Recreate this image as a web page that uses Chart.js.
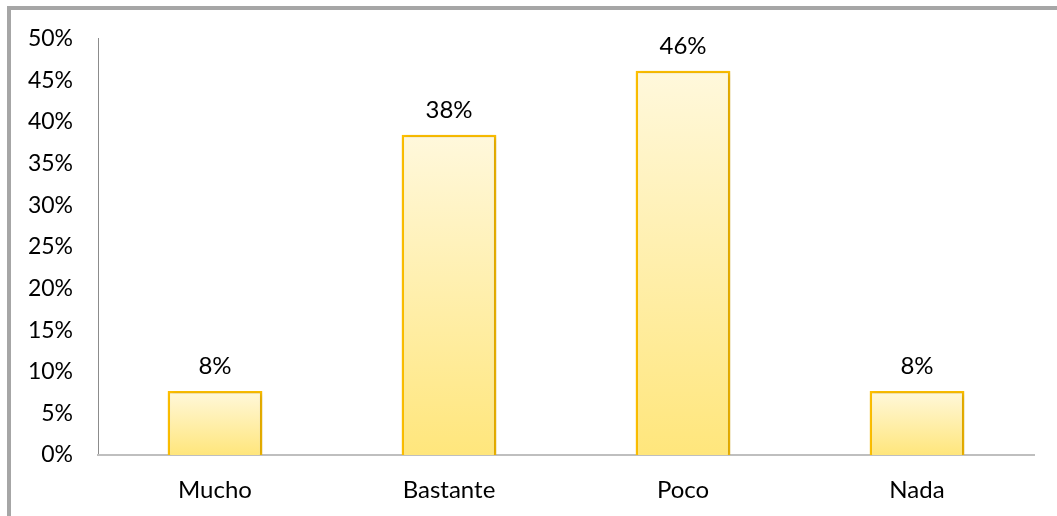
<!DOCTYPE html>
<html>
<head>
<meta charset="utf-8">
<script src="https://cdn.jsdelivr.net/npm/chart.js@4.4.0/dist/chart.umd.min.js"></script>
<style>
  html, body { margin: 0; padding: 0; background: #fff; }
  #wrap { position: relative; width: 1057px; height: 516px; overflow: hidden; }
  #frame {
    position: absolute; left: 7px; top: 6px; width: 1200px; height: 600px;
    border-left: 4px solid #a6a6a6; border-top: 4px solid #a6a6a6;
  }
  canvas { position: absolute; left: 0; top: 0; }
</style>
</head>
<body>
<div id="wrap">
  <div id="frame"></div>
  <canvas id="c" width="1057" height="516"></canvas>
</div>
<script>
const categories = ['Mucho', 'Bastante', 'Poco', 'Nada'];
const values     = [7.69, 38.46, 46.15, 7.69];   // percent
const valueLabels = ['8%', '38%', '46%', '8%'];

const FONT = 'Lato, "Open Sans", sans-serif';

function barGradient(context) {
  const chart = context.chart;
  const ys = chart.scales.y;
  if (!chart.chartArea || !ys || context.type !== 'data') return '#fff0b0';
  const top = ys.getPixelForValue(context.raw);
  const base = ys.getPixelForValue(0);
  const g = chart.ctx.createLinearGradient(0, top, 0, base);
  g.addColorStop(0, '#fff8dc');
  g.addColorStop(1, '#ffe67c');
  return g;
}

// soft shadow behind bars
const shadowPlugin = {
  id: 'barShadow',
  beforeDatasetDraw(chart) {
    const ctx = chart.ctx;
    ctx.save();
    ctx.shadowColor = 'rgba(0,0,0,0.18)';
    ctx.shadowBlur = 5;
    ctx.shadowOffsetX = 2;
    ctx.shadowOffsetY = 1;
  },
  afterDatasetDraw(chart) {
    chart.ctx.restore();
  }
};

// value labels above bars
const valueLabelPlugin = {
  id: 'valueLabels',
  afterDatasetsDraw(chart) {
    const ctx = chart.ctx;
    const meta = chart.getDatasetMeta(0);
    ctx.save();
    ctx.font = '24px ' + FONT;
    ctx.fillStyle = '#000';
    ctx.textAlign = 'center';
    ctx.textBaseline = 'bottom';
    meta.data.forEach((bar, i) => {
      ctx.fillText(valueLabels[i], bar.x, bar.y - 13);
    });
    ctx.restore();
  }
};

new Chart(document.getElementById('c'), {
  type: 'bar',
  data: {
    labels: categories,
    datasets: [{
      data: values,
      backgroundColor: barGradient,
      borderColor: '#ffc000',
      borderWidth: 2.5,
      categoryPercentage: 0.405,
      barPercentage: 1
    }]
  },
  options: {
    responsive: false,
    animation: false,
    devicePixelRatio: 1,
    layout: { padding: { top: 28, right: 23, bottom: 0, left: 0 } },
    plugins: { legend: { display: false }, tooltip: { enabled: false } },
    scales: {
      y: {
        min: 0, max: 50,
        ticks: {
          stepSize: 5,
          callback: v => v + '%',
          color: '#000',
          font: { family: FONT, size: 23 },
          padding: 25
        },
        grid: { display: false, drawTicks: false },
        border: { display: true, color: '#8c8c8c', width: 1 },
        afterFit(scale) { scale.width = 98; }
      },
      x: {
        ticks: {
          color: '#000',
          font: { family: FONT, size: 24 },
          padding: 21
        },
        grid: { display: false, drawTicks: false },
        border: { display: true, color: '#bfbfbf', width: 2 },
        afterFit(scale) { scale.height = 61; }
      }
    }
  },
  plugins: [shadowPlugin, valueLabelPlugin]
});
</script>
</body>
</html>
